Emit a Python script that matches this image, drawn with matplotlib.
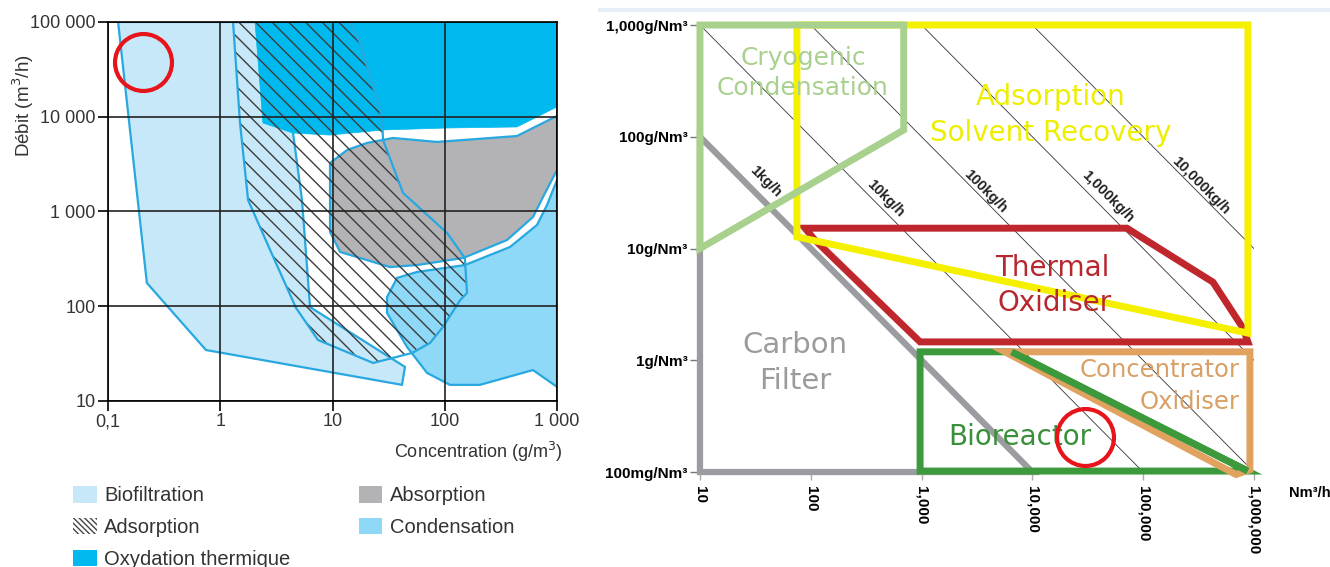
import matplotlib
matplotlib.use('Agg')
import numpy as np
import matplotlib.pyplot as plt
from matplotlib.patches import Polygon, Patch
from matplotlib.lines import Line2D
from matplotlib.ticker import NullLocator

plt.rcParams['font.family'] = ['Liberation Sans', 'DejaVu Sans']
plt.rcParams['hatch.linewidth'] = 1.0

# ---- left chart: concentration (g/m3) vs flow (m3/h) ----
bio_conc = [0.123, 0.222, 0.746, 41.6, 44.2, 6.31, 5.35, 4.45, 3.62]
bio_flow = [100000, 176, 34.5, 14.8, 22.9, 98, 1320, 6730, 100000]

ads_conc = [1.30, 1.50, 1.77, 2.78, 4.73, 7.43, 23.0, 51.1, 74.0, 96.4,
            137, 158, 151, 105, 42.5, 28.2, 27.6, 17.6, 14.3]
ads_flow = [100000, 8590, 1320, 393, 96, 44.0, 25.2, 32.1, 41.0, 60.4,
            116, 138, 323, 593, 1570, 5690, 9940, 60000, 100000]

oxy_conc = [2.04, 2.40, 4.45, 9.50, 28.2, 105, 440, 1000, 1000]
oxy_flow = [100000, 8590, 6730, 6410, 7250, 7610, 7800, 12700, 100000]

abs_conc = [9.50, 13.5, 20.3, 34.6, 85.3, 440, 1000, 1000, 750, 611, 359,
            146, 56.6, 32.5, 11.7, 9.50]
abs_flow = [3250, 4460, 5290, 5970, 5420, 6260, 10200, 2740, 1420, 875, 500,
            323, 272, 259, 374, 608]

cond_conc = [37.6, 30.6, 30.6, 46.1, 69.5, 111, 206, 611, 1000, 1000, 815,
             663, 381, 151, 56.6]
cond_flow = [199, 125, 85, 37.2, 19.8, 14.8, 14.8, 21.2, 14.1, 2150, 1170,
             720, 422, 272, 230]

left_xticks = [0.1, 1, 10, 100, 1000]
left_xlabels = ['0,1', '1', '10', '100', '1 000']
left_yticks = [10, 100, 1000, 10000, 100000]
left_ylabels = ['10', '100', '1 000', '10 000', '100 000']

# ---- right chart: flow (Nm3/h) vs concentration (g/Nm3) ----
carbon_q = [10, 10, 10000]
carbon_c = [100, 0.1, 0.1]
cryo_q = [10, 690, 690, 10]
cryo_c = [1000, 1000, 115, 10]
solvent_q = [75, 883000, 883000, 75]
solvent_c = [1000, 1000, 1.75, 12.7]
thermal_q = [88.7, 71400, 427000, 795000, 883000, 970, 109]
thermal_c = [15.2, 15.2, 5.0, 1.95, 1.46, 1.46, 11.9]
concox_q = [5660, 920000, 920000, 689000]
concox_c = [1.19, 1.19, 0.105, 0.095]
bio_q = [970, 6500, 880000, 970]
bio_c = [1.19, 1.19, 0.102, 0.102]

iso_kgh = [10, 100, 1000, 10000]
iso_labels = ['1kg/h', '10kg/h', '100kg/h', '1,000kg/h', '10,000kg/h']
iso_label_q = [38.7, 471, 3776, 47900, 331000]
iso_label_c = [40, 28, 32.4, 29.2, 36.7]

right_xticks = [10, 100, 1000, 10000, 100000, 1000000]
right_xlabels = ['10', '100', '1,000', '10,000', '100,000', '1,000,000']
right_yticks = [0.1, 1, 10, 100, 1000]
right_ylabels = ['100mg/Nm³', '1g/Nm³', '10g/Nm³', '100g/Nm³', '1,000g/Nm³']

BLUE = '#27a8e0'
C_BIO = '#c7e8f8'
C_OXY = '#00b9ef'
C_ABS = '#b3b3b5'
C_COND = '#8ed8f8'


def poly(ax, xs, ys, **kw):
    p = Polygon(np.column_stack([xs, ys]), closed=True, **kw)
    ax.add_patch(p)
    return p


def draw_left(ax):
    ax.set_xscale('log')
    ax.set_yscale('log')
    ax.set_xlim(0.1, 1000)
    ax.set_ylim(10, 100000)

    poly(ax, bio_conc, bio_flow, fc=C_BIO, ec=BLUE, lw=1.6, zorder=1)
    poly(ax, oxy_conc, oxy_flow, fc=C_OXY, ec=C_OXY, lw=0.5, zorder=1.1)
    poly(ax, abs_conc, abs_flow, fc=C_ABS, ec=BLUE, lw=1.6, zorder=1.2)
    poly(ax, cond_conc, cond_flow, fc=C_COND, ec=BLUE, lw=1.6, zorder=1.3)
    poly(ax, ads_conc, ads_flow, fill=False, hatch='\\\\', ec='#3c3c3c', lw=0, zorder=1.4)
    poly(ax, ads_conc, ads_flow, fill=False, ec=BLUE, lw=1.6, zorder=1.5)

    ax.set_xticks(left_xticks, labels=left_xlabels)
    ax.set_yticks(left_yticks, labels=left_ylabels)
    ax.xaxis.set_minor_locator(NullLocator())
    ax.yaxis.set_minor_locator(NullLocator())
    ax.tick_params(direction='out', length=7, width=1.2, pad=2,
                   labelsize=13, labelcolor='#333')
    ax.set_axisbelow(False)
    ax.grid(True, color='#222', lw=1.2)
    for s in ax.spines.values():
        s.set_linewidth(1.2)
        s.set_zorder(3)

    ax.set_ylabel('Débit (m$^3$/h)', fontsize=13.5, color='#333')
    ax.yaxis.set_label_coords(-0.161, 0.78)
    ax.set_xlabel('Concentration (g/m$^3$)', fontsize=13, color='#333', ha='right')
    ax.xaxis.set_label_coords(1.013, -0.104)

    # highlight circle
    ax.plot([0.205], [37900], 'o', ms=41, mfc='none', mec='#e8141b', mew=3,
            clip_on=False, zorder=5)


def draw_right(ax):
    ax.set_xscale('log')
    ax.set_yscale('log')
    ax.set_xlim(10, 1000000)
    ax.set_ylim(0.1, 1000)
    for s in ax.spines.values():
        s.set_visible(False)

    # iso mass-flow lines
    q_ends = np.array([10, 1000000])
    for m in iso_kgh:
        ax.plot(q_ends, m * 1000 / q_ends, color='#333', lw=0.6, zorder=1)
    for lab, q, c in zip(iso_labels, iso_label_q, iso_label_c):
        ax.text(q, c, lab, rotation=-45, ha='center', va='center', fontsize=10.5,
                fontweight='bold', color='#222', zorder=2)

    lw = 5
    kw = dict(fill=False, joinstyle='miter', clip_on=False)
    poly(ax, carbon_q, carbon_c, ec='#9b9ca0', lw=4.5, zorder=3, **kw)
    poly(ax, thermal_q, thermal_c, ec='#c0272d', lw=lw, zorder=4, **kw)
    poly(ax, solvent_q, solvent_c, ec='#f4f000', lw=lw, zorder=5, **kw)
    poly(ax, cryo_q, cryo_c, ec='#a9d18e', lw=lw, zorder=6, **kw)
    poly(ax, bio_q, bio_c, ec='#3c9a3c', lw=lw, zorder=6.5, **kw)
    poly(ax, concox_q, concox_c, ec='#e0a25e', lw=lw, zorder=7, **kw)
    # green diagonal drawn over the tan one
    ax.plot(bio_q[1:3], bio_c[1:3], color='#3c9a3c', lw=lw, zorder=7.5,
            solid_capstyle='butt', clip_on=False)

    big = dict(family=['DejaVu Sans'], ha='center', va='center', zorder=8)
    ax.text(85, 507, 'Cryogenic', fontsize=18, color='#a9d18e', **big)
    ax.text(85, 273, 'Condensation', fontsize=18, color='#a9d18e', **big)
    ax.text(14700, 227, 'Adsorption', fontsize=20, color='#eeee00', **big)
    ax.text(14700, 108, 'Solvent Recovery', fontsize=20, color='#eeee00', **big)
    ax.text(15000, 6.7, 'Thermal', fontsize=20, color='#b5282e', **big)
    ax.text(16000, 3.25, 'Oxidiser', fontsize=20, color='#b5282e', **big)
    ax.text(72, 1.37, 'Carbon', fontsize=21, color='#9b9b9b', **big)
    ax.text(72, 0.65, 'Filter', fontsize=21, color='#9b9b9b', **big)
    ax.text(7730, 0.206, 'Bioreactor', fontsize=20, color='#3a8f3a', **big)
    small = dict(big, ha='right')
    ax.text(748000, 0.82, 'Concentrator', fontsize=17.5, color='#d9a066', **small)
    ax.text(748000, 0.42, 'Oxidiser', fontsize=17.5, color='#d9a066', **small)

    ax.set_xticks(right_xticks)
    ax.set_xticklabels(right_xlabels, rotation=270, fontsize=11, fontweight='bold',
                       va='top', ha='center')
    ax.set_yticks(right_yticks, labels=right_ylabels)
    for t in ax.get_yticklabels():
        t.set_fontsize(11)
        t.set_fontweight('bold')
    ax.xaxis.set_minor_locator(NullLocator())
    ax.yaxis.set_minor_locator(NullLocator())
    ax.tick_params(axis='x', direction='out', length=6, width=1, color='#aaa', pad=4)
    ax.tick_params(axis='y', direction='out', length=7, width=1, color='#777', pad=2)
    ax.text(1.101, -0.047, 'Nm³/h', transform=ax.transAxes, fontsize=10.5,
            fontweight='bold', ha='center', va='center')

    ax.plot([29900], [0.206], 'o', ms=41, mfc='none', mec='#e8141b', mew=3,
            clip_on=False, zorder=10)


fig = plt.figure(figsize=(13.3, 5.67), dpi=100)
axl = fig.add_axes([0.0812, 0.2928, 0.3376, 0.6684])
axr = fig.add_axes([0.5263, 0.1675, 0.4165, 0.7884])
draw_left(axl)
draw_right(axr)

fig.add_artist(Line2D([600 / 1330, 1], [1 - 10 / 567, 1 - 10 / 567],
                      color='#e6eef8', lw=3))

handles = [
    Patch(fc=C_BIO, ec='none', label='Biofiltration'),
    Patch(fc='none', ec='#444', hatch='\\\\\\\\\\\\', lw=0, label='Adsorption'),
    Patch(fc=C_OXY, ec='none', label='Oxydation thermique'),
    Patch(fc=C_ABS, ec='none', label='Absorption'),
    Patch(fc=C_COND, ec='none', label='Condensation'),
]
fig.legend(handles=handles, loc='upper left', bbox_to_anchor=(0.0414, 0.174),
           ncol=2, frameon=False, fontsize=14.5, handlelength=1.19,
           handleheight=0.85, handletextpad=0.35, columnspacing=3.38,
           labelspacing=0.63, borderpad=0.4, labelcolor='#333')

fig.savefig('out.png', dpi=100)
